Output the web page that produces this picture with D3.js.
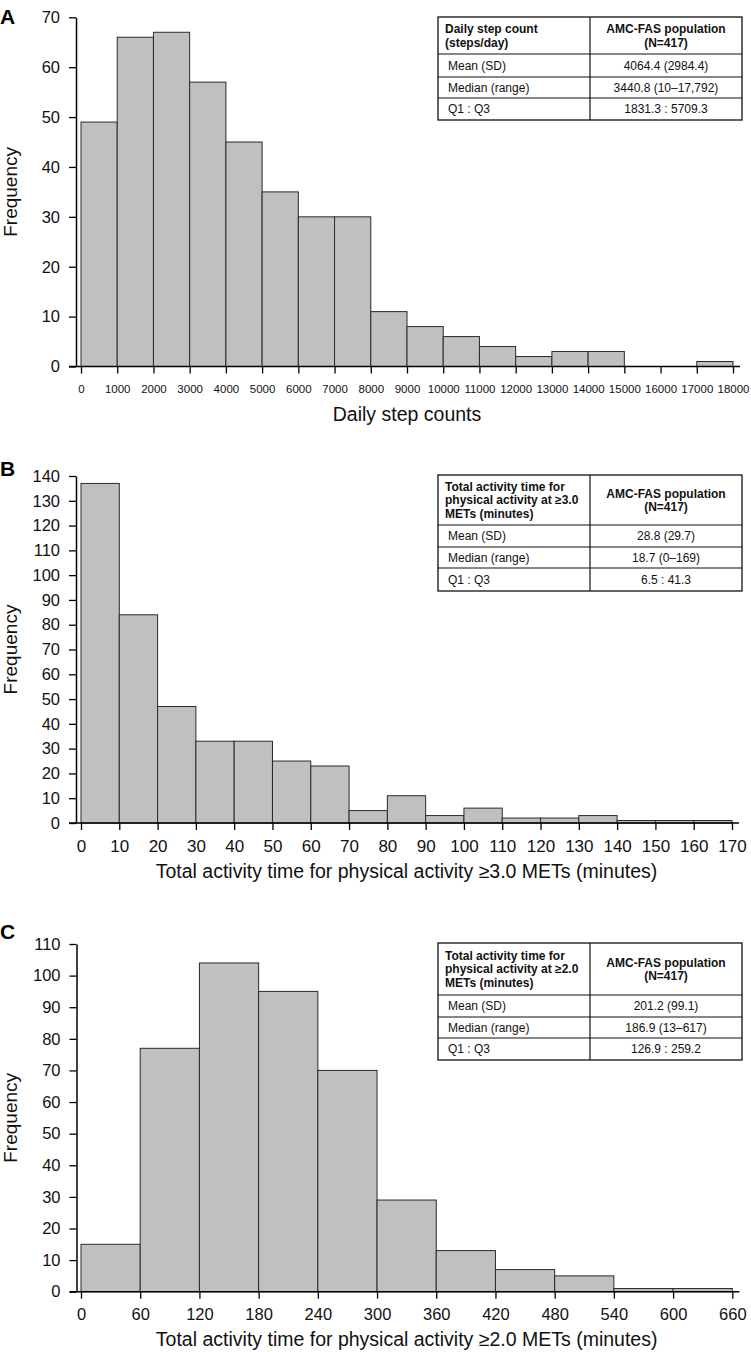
<!DOCTYPE html>
<html>
<head>
<meta charset="utf-8">
<script src="https://cdn.jsdelivr.net/npm/d3@7"></script>
<style>
  html, body { margin: 0; padding: 0; background: #fff; }
  svg { display: block; font-family: "Liberation Sans", Arial, sans-serif; }
</style>
</head>
<body>
<svg id="chart" width="751" height="1352"></svg>
<script>
// ---------------- DATA ----------------
const stepEdges = [0,1000,2000,3000,4000,5000,6000,7000,8000,9000,10000,11000,12000,13000,14000,15000,16000,17000,18000];
const stepCounts = [49,66,67,57,45,35,30,30,11,8,6,4,2,3,3,0,0,1];
const stepYTicks = [0,10,20,30,40,50,60,70];

const met3Edges = [0,10,20,30,40,50,60,70,80,90,100,110,120,130,140,150,160,170];
const met3Counts = [137,84,47,33,33,25,23,5,11,3,6,2,2,3,1,1,1];
const met3YTicks = [0,10,20,30,40,50,60,70,80,90,100,110,120,130,140];

const met2Edges = [0,60,120,180,240,300,360,420,480,540,600,660];
const met2Counts = [15,77,104,95,70,29,13,7,5,1,1];
const met2YTicks = [0,10,20,30,40,50,60,70,80,90,100,110];

const panelLetters = ["A","B","C"];
const xTitles = [
  "Daily step counts",
  "Total activity time for physical activity \u22653.0 METs (minutes)",
  "Total activity time for physical activity \u22652.0 METs (minutes)"
];
const yTitle = "Frequency";

const tableHeadLeftA = ["Daily step count", "(steps/day)"];
const tableHeadLeftB = ["Total activity time for", "physical activity at \u22653.0", "METs (minutes)"];
const tableHeadLeftC = ["Total activity time for", "physical activity at \u22652.0", "METs (minutes)"];
const tableHeadRight = ["AMC-FAS population", "(N=417)"];
const rowLabels = ["Mean (SD)", "Median (range)", "Q1 : Q3"];
const rowValuesA = ["4064.4 (2984.4)", "3440.8 (10\u201317,792)", "1831.3 : 5709.3"];
const rowValuesB = ["28.8 (29.7)", "18.7 (0\u2013169)", "6.5 : 41.3"];
const rowValuesC = ["201.2 (99.1)", "186.9 (13\u2013617)", "126.9 : 259.2"];

// ---------------- LAYOUT ----------------
const svg = d3.select("#chart");

const panels = [
  { letter: panelLetters[0], edges: stepEdges, counts: stepCounts, yTicks: stepYTicks,
    xRange: [81, 733], yRange: [366.5, 17.3], axisX: 76, letterY: 24,
    xTickFont: 11.5, xLabelDy: 26, titleDy: 54, xTitle: xTitles[0],
    table: { top: 17, headH: 37, rowH: [23, 21, 22], head: tableHeadLeftA, vals: rowValuesA } },
  { letter: panelLetters[1], edges: met3Edges, counts: met3Counts, yTicks: met3YTicks,
    xRange: [81, 732], yRange: [823, 476], axisX: 76, letterY: 476,
    xTickFont: 17, xLabelDy: 29, titleDy: 55, xTitle: xTitles[1],
    table: { top: 475, headH: 50, rowH: [22, 21, 23], head: tableHeadLeftB, vals: rowValuesB } },
  { letter: panelLetters[2], edges: met2Edges, counts: met2Counts, yTicks: met2YTicks,
    xRange: [81, 732.3], yRange: [1291.7, 944], axisX: 76.5, letterY: 939,
    xTickFont: 16.5, xLabelDy: 28, titleDy: 54, xTitle: xTitles[2],
    table: { top: 943, headH: 52, rowH: [22, 21, 22], head: tableHeadLeftC, vals: rowValuesC } }
];

panels.forEach(p => {
  const g = svg.append("g");
  const x = d3.scaleLinear().domain([p.edges[0], p.edges[p.edges.length - 1]]).range(p.xRange);
  const y = d3.scaleLinear().domain([0, p.yTicks[p.yTicks.length - 1]]).range(p.yRange);
  const y0 = y(0);

  // bars
  const bins = p.counts.map((c, i) => ({ x0: p.edges[i], x1: p.edges[i + 1], c }));
  g.selectAll("rect.bar").data(bins.filter(b => b.c > 0)).join("rect")
    .attr("class", "bar")
    .attr("x", d => x(d.x0))
    .attr("width", d => x(d.x1) - x(d.x0))
    .attr("y", d => y(d.c))
    .attr("height", d => y0 - y(d.c))
    .attr("fill", "#c0c0c0")
    .attr("stroke", "#2a2a2a")
    .attr("stroke-width", 1);

  // y axis
  const yAxis = d3.axisLeft(y).tickValues(p.yTicks).tickSize(7).tickPadding(9).tickSizeOuter(0);
  const ya = g.append("g").attr("transform", `translate(${p.axisX},0)`).call(yAxis);
  ya.select(".domain").attr("stroke", "#000").attr("stroke-width", 1.5);
  ya.selectAll(".tick line").attr("stroke", "#000").attr("stroke-width", 1.3);
  ya.selectAll(".tick text").attr("font-size", 16.5).attr("fill", "#111")
    .attr("font-family", "Liberation Sans, Arial, sans-serif");

  // x axis
  const xAxis = d3.axisBottom(x).tickValues(p.edges).tickSize(7).tickSizeOuter(0).tickFormat(d3.format("d"));
  const xa = g.append("g").attr("transform", `translate(0,${y0})`).call(xAxis);
  xa.select(".domain").remove();
  xa.append("line").attr("x1", p.axisX - 7).attr("x2", p.xRange[1] + 7)
    .attr("stroke", "#000").attr("stroke-width", 1.5);
  xa.selectAll(".tick line").attr("stroke", "#000").attr("stroke-width", 1.3);
  xa.selectAll(".tick text").attr("font-size", p.xTickFont).attr("fill", "#111")
    .attr("font-family", "Liberation Sans, Arial, sans-serif")
    .attr("y", p.xLabelDy).attr("dy", 0);

  // titles
  g.append("text").attr("x", (p.xRange[0] + p.xRange[1]) / 2).attr("y", y0 + p.titleDy)
    .attr("text-anchor", "middle").attr("font-size", 19.5).attr("fill", "#111").text(p.xTitle);
  g.append("text").attr("transform", `translate(17,${(p.yRange[0] + p.yRange[1]) / 2}) rotate(-90)`)
    .attr("text-anchor", "middle").attr("font-size", 19).attr("fill", "#111").text(yTitle);
  g.append("text").attr("x", 0).attr("y", p.letterY).attr("font-size", 21).attr("font-weight", "bold")
    .attr("fill", "#000").text(p.letter);

  // table
  const t = p.table;
  const tx0 = 438, tx1 = 742, tmid = 590;
  const rowsY = [t.top, t.top + t.headH];
  t.rowH.forEach(h => rowsY.push(rowsY[rowsY.length - 1] + h));
  const tg = g.append("g");
  tg.append("rect").attr("x", tx0).attr("y", t.top).attr("width", tx1 - tx0)
    .attr("height", rowsY[rowsY.length - 1] - t.top)
    .attr("fill", "#fff").attr("stroke", "#111").attr("stroke-width", 1.3);
  tg.append("line").attr("x1", tmid).attr("x2", tmid).attr("y1", t.top).attr("y2", rowsY[rowsY.length - 1])
    .attr("stroke", "#111").attr("stroke-width", 1.2);
  rowsY.slice(1, -1).forEach(yy => {
    tg.append("line").attr("x1", tx0).attr("x2", tx1).attr("y1", yy).attr("y2", yy)
      .attr("stroke", "#111").attr("stroke-width", 1.1);
  });
  // header text
  const lh = 13.5;
  const hMid = t.top + t.headH / 2;
  t.head.forEach((s, i) => {
    tg.append("text").attr("x", tx0 + 7)
      .attr("y", hMid + (i - (t.head.length - 1) / 2) * lh + 4.3)
      .attr("font-size", 12).attr("font-weight", "bold").attr("fill", "#111").text(s);
  });
  tableHeadRight.forEach((s, i) => {
    tg.append("text").attr("x", (tmid + tx1) / 2)
      .attr("y", hMid + (i - (tableHeadRight.length - 1) / 2) * lh + 4.3)
      .attr("text-anchor", "middle")
      .attr("font-size", 12).attr("font-weight", "bold").attr("fill", "#111").text(s);
  });
  rowLabels.forEach((s, i) => {
    const cy = (rowsY[i + 1] + rowsY[i + 2]) / 2;
    tg.append("text").attr("x", tx0 + 10).attr("y", cy + 4.3)
      .attr("font-size", 12).attr("fill", "#111").text(s);
    tg.append("text").attr("x", (tmid + tx1) / 2).attr("y", cy + 4.3).attr("text-anchor", "middle")
      .attr("font-size", 12).attr("fill", "#111").text(t.vals[i]);
  });
});
</script>
</body>
</html>
